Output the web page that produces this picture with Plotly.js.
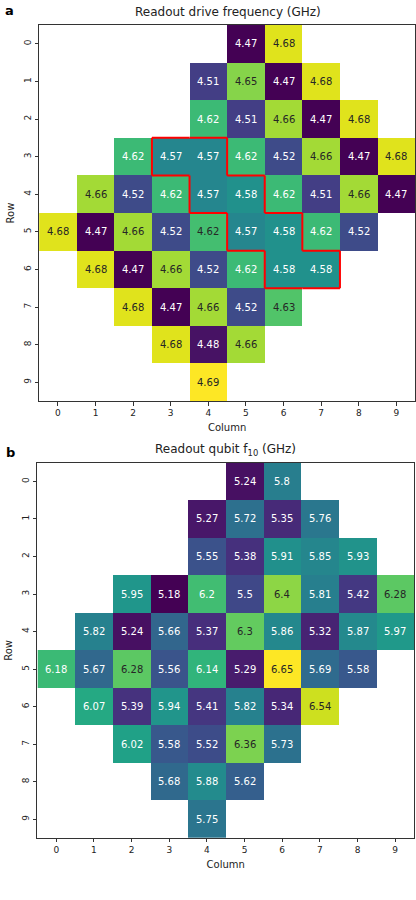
<!DOCTYPE html>
<html>
<head>
<meta charset="utf-8">
<script src="https://cdn.plot.ly/plotly-3.0.1.min.js"></script>
<style>
  html, body { margin: 0; padding: 0; background: #fff; }
  #chart { width: 416px; height: 900px; }
</style>
</head>
<body>
<div id="chart"></div>
<script>
/* =========================
   DATA
========================= */
const columns = [0, 1, 2, 3, 4, 5, 6, 7, 8, 9];
const rows = [0, 1, 2, 3, 4, 5, 6, 7, 8, 9];

// readout drive frequency (GHz), rows 0..9, columns 0..9
const driveFreq = [
  [null, null, null, null, null, 4.47, 4.68, null, null, null],
  [null, null, null, null, 4.51, 4.65, 4.47, 4.68, null, null],
  [null, null, null, null, 4.62, 4.51, 4.66, 4.47, 4.68, null],
  [null, null, 4.62, 4.57, 4.57, 4.62, 4.52, 4.66, 4.47, 4.68],
  [null, 4.66, 4.52, 4.62, 4.57, 4.58, 4.62, 4.51, 4.66, 4.47],
  [4.68, 4.47, 4.66, 4.52, 4.624, 4.57, 4.58, 4.62, 4.52, null],
  [null, 4.68, 4.47, 4.66, 4.52, 4.62, 4.58, 4.58, null, null],
  [null, null, 4.68, 4.47, 4.66, 4.52, 4.63, null, null, null],
  [null, null, null, 4.68, 4.48, 4.66, null, null, null, null],
  [null, null, null, null, 4.69, null, null, null, null, null]
];

// readout qubit f10 (GHz)
const qubitFreq = [
  [null, null, null, null, null, 5.24, 5.8, null, null, null],
  [null, null, null, null, 5.27, 5.72, 5.35, 5.76, null, null],
  [null, null, null, null, 5.55, 5.38, 5.91, 5.85, 5.93, null],
  [null, null, 5.95, 5.18, 6.2, 5.5, 6.4, 5.81, 5.42, 6.28],
  [null, 5.82, 5.24, 5.66, 5.37, 6.3, 5.86, 5.32, 5.87, 5.97],
  [6.18, 5.67, 6.28, 5.56, 6.14, 5.29, 6.65, 5.69, 5.58, null],
  [null, 6.07, 5.39, 5.94, 5.41, 5.82, 5.34, 6.54, null, null],
  [null, null, 6.02, 5.58, 5.52, 6.36, 5.73, null, null, null],
  [null, null, null, 5.68, 5.88, 5.62, null, null, null, null],
  [null, null, null, null, 5.75, null, null, null, null, null]
];

// cells outlined in red on the top map: [row, column]
const outlinedCells = [[3, 3], [3, 4], [4, 4], [4, 5], [5, 5], [5, 6], [6, 6], [6, 7]];

/* =========================
   HELPERS
========================= */
const font = "DejaVu Sans, Arial, sans-serif";

function cellLabels(z, xref, yref, fmt, threshold) {
  const out = [];
  z.forEach((row, r) => {
    row.forEach((v, c) => {
      if (v === null) return;
      out.push({
        x: columns[c], y: rows[r], xref: xref, yref: yref,
        text: fmt(v), showarrow: false,
        font: { family: font, size: 10, color: v < threshold ? "#ffffff" : "#262626" }
      });
    });
  });
  return out;
}

function outlineShapes(cells, xref, yref) {
  const has = (r, c) => cells.some(p => p[0] === r && p[1] === c);
  const line = { color: "#ff0000", width: 2 };
  const shapes = [];
  cells.forEach(([r, c]) => {
    const x = columns[c], y = rows[r];
    if (!has(r - 1, c)) shapes.push({ type: "line", xref, yref, x0: x - 0.5, x1: x + 0.5, y0: y - 0.5, y1: y - 0.5, line });
    if (!has(r + 1, c)) shapes.push({ type: "line", xref, yref, x0: x - 0.5, x1: x + 0.5, y0: y + 0.5, y1: y + 0.5, line });
    if (!has(r, c - 1)) shapes.push({ type: "line", xref, yref, x0: x - 0.5, x1: x - 0.5, y0: y - 0.5, y1: y + 0.5, line });
    if (!has(r, c + 1)) shapes.push({ type: "line", xref, yref, x0: x + 0.5, x1: x + 0.5, y0: y - 0.5, y1: y + 0.5, line });
  });
  return shapes;
}

const xAxisBase = {
  range: [-0.5, 9.5],
  tickvals: columns,
  ticks: "outside", ticklen: 3.5, tickcolor: "#333",
  showline: true, mirror: true, linecolor: "#333", linewidth: 1,
  showgrid: false, zeroline: false,
  tickfont: { family: font, size: 9, color: "#222" },
  title: { text: "Column", font: { family: font, size: 10, color: "#222" }, standoff: 6 }
};
const yAxisBase = {
  range: [9.5, -0.5],
  tickvals: rows,
  tickangle: -90,
  ticks: "outside", ticklen: 3.5, tickcolor: "#333",
  showline: true, mirror: true, linecolor: "#333", linewidth: 1,
  showgrid: false, zeroline: false,
  tickfont: { family: font, size: 9, color: "#222" },
  title: { text: "Row", font: { family: font, size: 10, color: "#222" }, standoff: 6 }
};

/* =========================
   TRACES
========================= */
const traces = [
  {
    type: "heatmap", x: columns, y: rows, z: driveFreq,
    colorscale: "Viridis", showscale: false, hoverinfo: "skip",
    xaxis: "x", yaxis: "y"
  },
  {
    type: "heatmap", x: columns, y: rows, z: qubitFreq,
    colorscale: "Viridis", showscale: false, hoverinfo: "skip",
    xaxis: "x2", yaxis: "y2"
  }
];

const annotations = [
  ...cellLabels(driveFreq, "x", "y", v => v.toFixed(2), 4.622),
  ...cellLabels(qubitFreq, "x2", "y2", v => String(v), 6.25),
  { text: "Readout drive frequency (GHz)", xref: "paper", yref: "paper", x: 0.547, y: 0.9867,
    yanchor: "middle", showarrow: false, font: { family: font, size: 12, color: "#222" } },
  { text: "Readout qubit f<sub>10</sub> (GHz)", xref: "paper", yref: "paper", x: 0.543, y: 0.4995,
    yanchor: "middle", showarrow: false, font: { family: font, size: 12, color: "#222" } },
  { text: "<b>a</b>", xref: "paper", yref: "paper", x: 0.008, y: 0.9878, xanchor: "left",
    yanchor: "middle", showarrow: false, font: { family: font, size: 13, color: "#000" } },
  { text: "<b>b</b>", xref: "paper", yref: "paper", x: 0.01, y: 0.4967, xanchor: "left",
    yanchor: "middle", showarrow: false, font: { family: font, size: 13, color: "#000" } }
];

const layout = {
  width: 416, height: 900,
  margin: { t: 0, r: 0, b: 0, l: 0 },
  paper_bgcolor: "#ffffff", plot_bgcolor: "#ffffff",
  showlegend: false,
  xaxis: { ...xAxisBase, domain: [0.094, 0.998], anchor: "y" },
  yaxis: { ...yAxisBase, domain: [0.5544, 0.9722], anchor: "x" },
  xaxis2: { ...xAxisBase, domain: [0.0901, 0.9952], anchor: "y2" },
  yaxis2: { ...yAxisBase, domain: [0.0689, 0.4859], anchor: "x2" },
  annotations: annotations,
  shapes: outlineShapes(outlinedCells, "x", "y")
};

Plotly.newPlot("chart", traces, layout, { displayModeBar: false, staticPlot: true });
</script>
</body>
</html>
